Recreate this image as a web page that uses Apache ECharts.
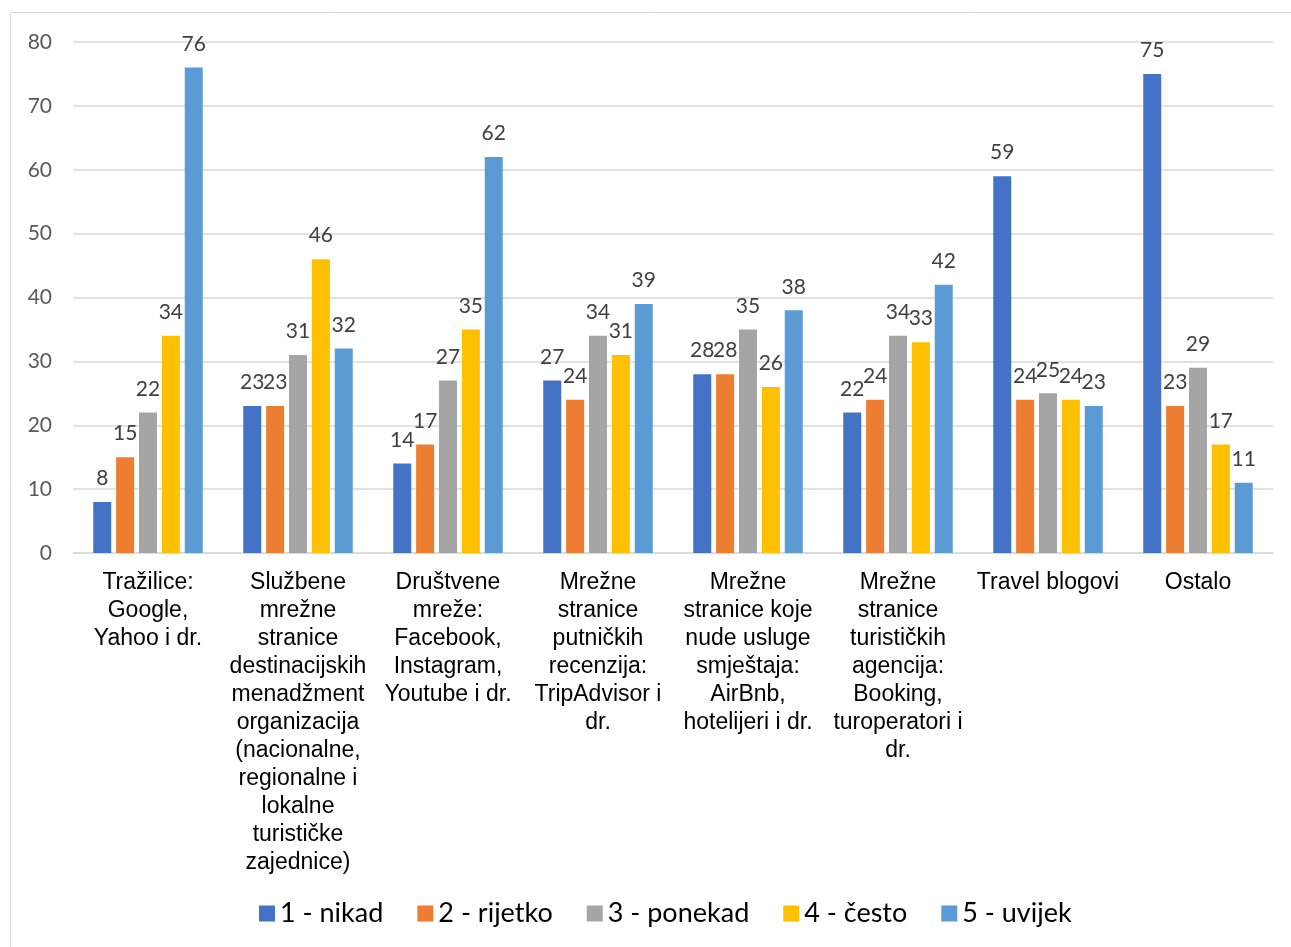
<!DOCTYPE html>
<html>
<head>
<meta charset="utf-8">
<script src="https://cdn.jsdelivr.net/npm/echarts@6/dist/echarts.min.js"></script>
<style>
  html, body { margin: 0; padding: 0; background: #fff; }
  #main { width: 1291px; height: 947px; }
</style>
</head>
<body>
<div id="main"></div>
<script>
// kategorije (prelomljene kao na slici)
var categories = [
  'Tražilice:\nGoogle,\nYahoo i dr.',
  'Službene\nmrežne\nstranice\ndestinacijskih\nmenadžment\norganizacija\n(nacionalne,\nregionalne i\nlokalne\nturističke\nzajednice)',
  'Društvene\nmreže:\nFacebook,\nInstagram,\nYoutube i dr.',
  'Mrežne\nstranice\nputničkih\nrecenzija:\nTripAdvisor i\ndr.',
  'Mrežne\nstranice koje\nnude usluge\nsmještaja:\nAirBnb,\nhotelijeri i dr.',
  'Mrežne\nstranice\nturističkih\nagencija:\nBooking,\nturoperatori i\ndr.',
  'Travel blogovi',
  'Ostalo'
];
var seriesNames = ['1 - nikad', '2 - rijetko', '3 - ponekad', '4 - često', '5 - uvijek'];
var nikad   = [8, 23, 14, 27, 28, 22, 59, 75];
var rijetko = [15, 23, 17, 24, 28, 24, 24, 23];
var ponekad = [22, 31, 27, 34, 35, 34, 25, 29];
var cesto   = [34, 46, 35, 31, 26, 33, 24, 17];
var uvijek  = [76, 32, 62, 39, 38, 42, 23, 11];
var yTicks  = [0, 10, 20, 30, 40, 50, 60, 70, 80];

var colors = ['#4472C4', '#ED7D31', '#A5A5A5', '#FFC000', '#5B9BD5'];
var values = [nikad, rijetko, ponekad, cesto, uvijek];

var myChart = echarts.init(document.getElementById('main'));

var series = values.map(function (d, i) {
  return {
    name: seriesNames[i],
    type: 'bar',
    data: d,
    barGap: '27%',
    barCategoryGap: '27%',
    itemStyle: { color: colors[i] },
    label: {
      show: true,
      position: 'top',
      distance: 13,
      color: '#404040',
      fontFamily: 'Lato',
      fontSize: 21
    }
  };
});

myChart.setOption({
  animation: false,
  color: colors,
  graphic: [{
    type: 'rect',
    shape: { x: 10.5, y: 12.5, width: 1300, height: 1000 },
    style: { fill: 'none', stroke: '#D9D9D9', lineWidth: 1 },
    silent: true
  }],
  grid: { left: 73, right: 18, top: 42, bottom: 394 },
  legend: {
    bottom: 15,
    left: 254,
    icon: 'rect',
    itemWidth: 16,
    itemHeight: 16,
    itemGap: 34,
    textStyle: { fontFamily: 'Lato', fontSize: 27, color: '#000' },
    data: seriesNames
  },
  xAxis: {
    type: 'category',
    data: categories,
    axisTick: { show: false },
    axisLine: { lineStyle: { color: '#D9D9D9', width: 1.5 } },
    axisLabel: {
      interval: 0,
      margin: 16,
      color: '#000',
      fontFamily: 'Liberation Sans',
      fontSize: 23,
      lineHeight: 28
    }
  },
  yAxis: {
    type: 'value',
    min: yTicks[0],
    max: yTicks[yTicks.length - 1],
    interval: 10,
    axisLine: { show: false },
    axisTick: { show: false },
    splitLine: { lineStyle: { color: '#D9D9D9', width: 1.5 } },
    axisLabel: {
      margin: 21,
      color: '#595959',
      fontFamily: 'Lato',
      fontSize: 21
    }
  },
  series: series
});
</script>
</body>
</html>
